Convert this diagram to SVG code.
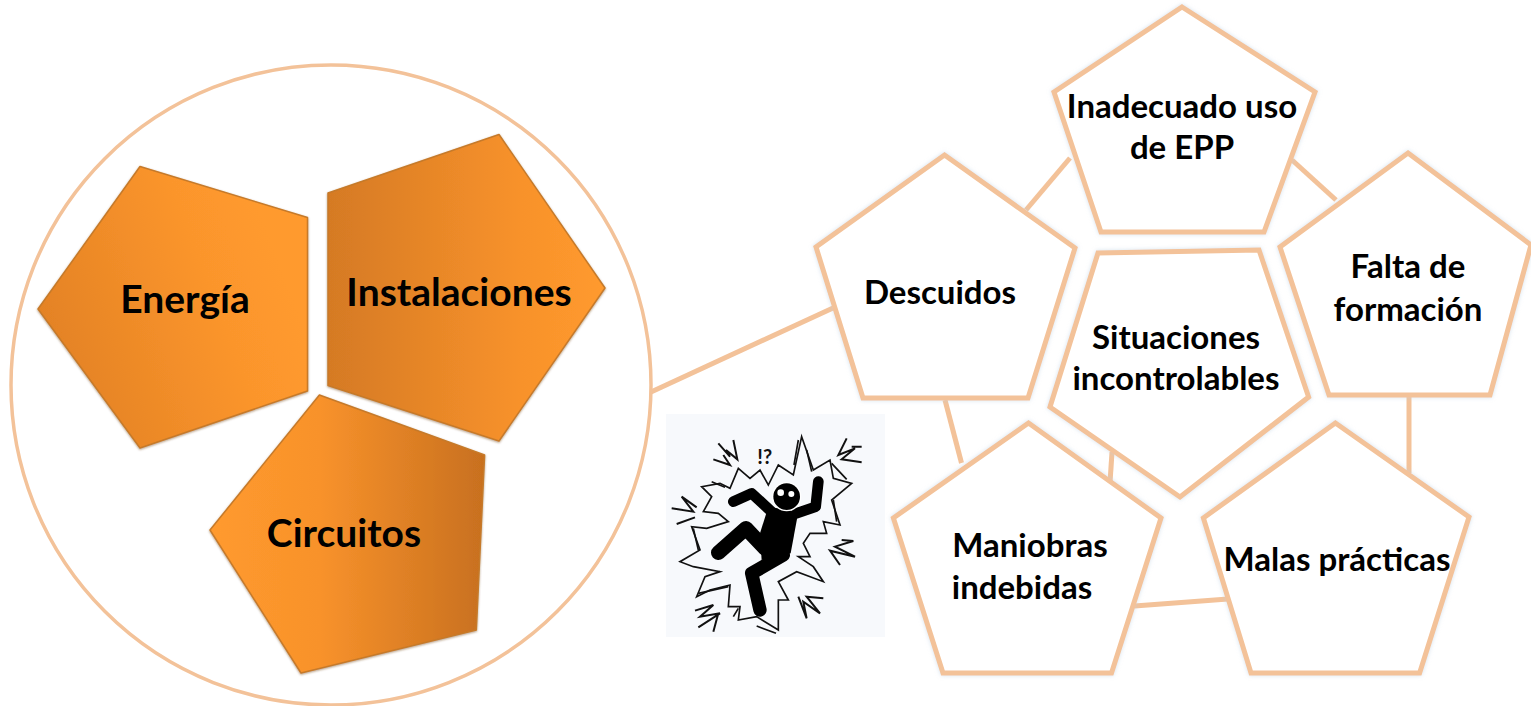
<svg xmlns="http://www.w3.org/2000/svg" width="1531" height="706" viewBox="0 0 1531 706">
<style>
.t{font-family:Lato,Carlito,"Noto Sans",sans-serif;font-weight:700;fill:#000;text-anchor:middle}
.big{font-size:39px}
.sm{font-size:33px}
.p{fill:#fff;stroke:#f3c299;stroke-width:5;stroke-linejoin:miter;filter:url(#glow)}
.o{stroke:#c67a2a;stroke-width:1.5;stroke-linejoin:round;filter:url(#sh)}
.c{fill:none;stroke:#f3c299;stroke-width:5}
.b{fill:none;stroke:#111;stroke-width:5;stroke-linejoin:miter}
</style>
<defs>
<linearGradient id="g1" x1="0" y1="1" x2="1" y2="0.6"><stop offset="0" stop-color="#dd7d22"/><stop offset="0.75" stop-color="#fb952c"/><stop offset="1" stop-color="#ff9a2e"/></linearGradient>
<linearGradient id="g2" x1="0" y1="0" x2="1" y2="0"><stop offset="0" stop-color="#d57a24"/><stop offset="0.7" stop-color="#f8922b"/><stop offset="1" stop-color="#ff9a2e"/></linearGradient>
<linearGradient id="g3" x1="0" y1="0" x2="1" y2="0"><stop offset="0" stop-color="#ff9a2e"/><stop offset="0.4" stop-color="#f8922b"/><stop offset="1" stop-color="#c8701f"/></linearGradient>
<filter id="sh" x="-5%" y="-5%" width="110%" height="110%"><feDropShadow dx="0" dy="1" stdDeviation="1" flood-color="#6b3d10" flood-opacity="0.5"/></filter>
<filter id="glow" x="-5%" y="-5%" width="110%" height="110%"><feDropShadow dx="0" dy="0" stdDeviation="2" flood-color="#b9cfe0" flood-opacity="0.6"/></filter>
</defs>
<rect width="1531" height="706" fill="#fff"/>
<g id="circle"><circle cx="331" cy="385" r="320" fill="#fff" stroke="#f3c299" stroke-width="3.5"/></g>
<g id="connectors">
<line class="c" x1="651" y1="392" x2="833" y2="308"/>
<line class="c" x1="1026" y1="210" x2="1070" y2="158"/>
<line class="c" x1="1292" y1="160" x2="1336" y2="200"/>
<line class="c" x1="1409" y1="397" x2="1409" y2="473"/>
<line class="c" x1="945" y1="400" x2="961.5" y2="463"/>
<line class="c" x1="1112" y1="452" x2="1110" y2="483"/>
<line class="c" x1="1134.5" y1="606" x2="1228" y2="599"/>
</g>
<g id="energia"><polygon class="o" fill="url(#g1)" points="140,166.5 307.5,217.5 307.5,391 140,448 38,309"/><text class="t big" x="185" y="313">Energía</text></g>
<g id="instalaciones"><polygon class="o" fill="url(#g2)" points="499,134.5 605,288 499,441 328,385.5 328,193"/><text class="t big" x="459" y="306">Instalaciones</text></g>
<g id="circuitos"><polygon class="o" fill="url(#g3)" points="319.4,395 484.6,455 476.3,630 301,673 210,530"/><text class="t big" x="344" y="547">Circuitos</text></g>
<g id="icono">
<rect x="666" y="414" width="219" height="223" fill="#f7f9fc"/>
<g transform="translate(650 400) scale(.33333)">
<path class="b" d="M455 110L490 210L540 180L550 235L605 250L545 300L570 375L520 365L530 400L480 400L460 430L480 470L445 470L490 500L520 545L440 515L385 545L415 600L385 600L385 690L320 650L265 660L270 620L235 620L240 555L180 570L140 590L165 530L210 515L130 500L90 485L150 450L125 380L170 385L235 365L205 340L160 335L185 290L155 260L210 250L240 265L265 205L300 235L330 210L355 255L385 195L430 225Z"/>
<path class="b" d="M445 120L432 195M470 150L485 215M545 190L590 238M550 300L560 365M320 678L378 700M265 625L250 650M145 580L235 560M130 385L145 450M185 245L225 262"/>
<path d="M205 130L240 170L228 150L262 178L250 120M190 178L240 195L220 165M590 115L565 165L615 145L575 178L635 187M605 140L635 140M65 325L130 335L95 290L140 322M80 372L135 352M575 420L610 423L555 440L615 470L540 452L570 495M445 590L470 655L460 605L510 640L470 590L520 595M135 632L190 615L150 650L210 640L145 682M190 695L205 640" fill="none" stroke="#111" stroke-width="6"/>
<text x="322" y="193" font-family="Lato,sans-serif" font-weight="700" font-size="60" fill="#111">!?</text>
<path d="M205 458L288 385L345 445" fill="none" stroke="#000" stroke-width="44" stroke-linecap="round" stroke-linejoin="round"/>
<path d="M400 465L305 520L330 630" fill="none" stroke="#000" stroke-width="40" stroke-linecap="round" stroke-linejoin="round"/>
<path d="M250 305L305 280L370 340" fill="none" stroke="#000" stroke-width="32" stroke-linecap="round" stroke-linejoin="round"/>
<path d="M440 340L497 320L505 245" fill="none" stroke="#000" stroke-width="32" stroke-linecap="round" stroke-linejoin="round"/>
<polygon points="355,320 445,335 422,460 335,480 330,400" fill="#000"/>
<circle cx="410" cy="290" r="44" fill="#fff"/><circle cx="410" cy="290" r="40" fill="#000"/><circle cx="392" cy="278" r="10" fill="#fff"/><circle cx="424" cy="282" r="9" fill="#fff"/>
</g>
</g>
<g id="situaciones"><polygon class="p" points="1098,253 1259,250 1308.6,397 1180,497 1050,407"/><text class="t sm" x="1176" y="349">Situaciones</text><text class="t sm" x="1176" y="390">incontrolables</text></g>
<g id="inadecuado"><polygon class="p" points="1182,7 1315,92 1264,232 1101,232 1054,92"/><text class="t sm" x="1182" y="118">Inadecuado uso</text><text class="t sm" x="1182" y="159">de EPP</text></g>
<g id="descuidos"><polygon class="p" points="944.5,155 1075,248 1028,398 863,398 816,247"/><text class="t sm" x="940" y="304">Descuidos</text></g>
<g id="falta"><polygon class="p" points="1408,153 1531,245 1490,395 1329,395 1280,247"/><text class="t sm" x="1408" y="278">Falta de</text><text class="t sm" x="1408" y="321">formación</text></g>
<g id="maniobras"><polygon class="p" points="1028.5,423 1161,518 1111.5,673 943,673 893.4,518"/><text class="t sm" x="1030" y="557">Maniobras</text><text class="t sm" x="1022" y="599">indebidas</text></g>
<g id="malas"><polygon class="p" points="1335.4,423 1469,517 1419.6,673 1251,673 1203.4,518"/><text class="t sm" x="1337" y="571">Malas prácticas</text></g>
</svg>
